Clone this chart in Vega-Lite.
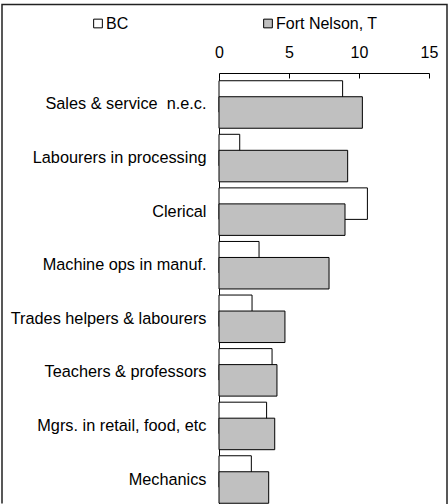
{
  "$schema": "https://vega.github.io/schema/vega-lite/v6.json",
  "autosize": {"type": "none"},
  "padding": {"left": 2, "top": 4.5, "right": 1, "bottom": 0},
  "width": 445,
  "height": 499.5,
  "background": "white",
  "config": {
    "font": "Liberation Sans",
    "view": {"stroke": "#222", "strokeWidth": 1.5, "strokeDash": [945, 445, 600]}
  },
  "data": {
    "values": [
      {"occupation": "Sales & service\u00a0\u00a0n.e.c.", "series": "BC", "value": 8.83},
      {"occupation": "Sales & service\u00a0\u00a0n.e.c.", "series": "Fort Nelson, T", "value": 10.24},
      {"occupation": "Labourers in processing", "series": "BC", "value": 1.48},
      {"occupation": "Labourers in processing", "series": "Fort Nelson, T", "value": 9.19},
      {"occupation": "Clerical\u00a0", "series": "BC", "value": 10.6},
      {"occupation": "Clerical\u00a0", "series": "Fort Nelson, T", "value": 9.0},
      {"occupation": "Machine ops in manuf.", "series": "BC", "value": 2.86},
      {"occupation": "Machine ops in manuf.", "series": "Fort Nelson, T", "value": 7.86},
      {"occupation": "Trades helpers & labourers", "series": "BC", "value": 2.36},
      {"occupation": "Trades helpers & labourers", "series": "Fort Nelson, T", "value": 4.71},
      {"occupation": "Teachers & professors", "series": "BC", "value": 3.79},
      {"occupation": "Teachers & professors", "series": "Fort Nelson, T", "value": 4.14},
      {"occupation": "Mgrs. in retail, food, etc", "series": "BC", "value": 3.4},
      {"occupation": "Mgrs. in retail, food, etc", "series": "Fort Nelson, T", "value": 3.98},
      {"occupation": "Mechanics", "series": "BC", "value": 2.31},
      {"occupation": "Mechanics", "series": "Fort Nelson, T", "value": 3.55}
    ]
  },
  "encoding": {
    "y": {
      "field": "occupation",
      "type": "nominal",
      "sort": null,
      "scale": {"range": [73.2, 501.8], "paddingInner": 0, "paddingOuter": 0},
      "axis": {
        "title": null,
        "orient": "left",
        "offset": -217,
        "ticks": false,
        "domainColor": "black",
        "domainWidth": 1,
        "labelFontSize": 16.3,
        "labelColor": "black",
        "labelPadding": 13,
        "labelLimit": 300
      }
    },
    "x": {
      "field": "value",
      "type": "quantitative",
      "scale": {"domain": [0, 15], "range": [217, 427], "nice": false},
      "axis": {
        "title": null,
        "orient": "top",
        "offset": -68.5,
        "values": [0, 5, 10, 15],
        "grid": false,
        "tickSize": -5,
        "tickColor": "black",
        "domainColor": "black",
        "labelFontSize": 16,
        "labelColor": "black",
        "labelPadding": 18,
        "labelFlush": false
      }
    },
    "fill": {
      "field": "series",
      "type": "nominal",
      "scale": {"domain": ["BC", "Fort Nelson, T"], "range": ["white", "#c0c0c0"]},
      "legend": {
        "title": null,
        "orient": "none",
        "legendX": 88,
        "legendY": 11,
        "direction": "horizontal",
        "columns": 2,
        "columnPadding": 131,
        "padding": 0,
        "symbolType": "square",
        "symbolSize": 76,
        "symbolStrokeColor": "black",
        "symbolStrokeWidth": 1,
        "labelFontSize": 16,
        "labelColor": "black",
        "labelOffset": 0
      }
    }
  },
  "layer": [
    {
      "transform": [{"filter": "datum.series === 'BC'"}],
      "mark": {"type": "bar", "stroke": "black", "strokeWidth": 1, "height": {"band": 0.588}, "yOffset": -8}
    },
    {
      "transform": [{"filter": "datum.series === 'Fort Nelson, T'"}],
      "mark": {"type": "bar", "stroke": "black", "strokeWidth": 1, "height": {"band": 0.588}, "yOffset": 8}
    }
  ]
}
